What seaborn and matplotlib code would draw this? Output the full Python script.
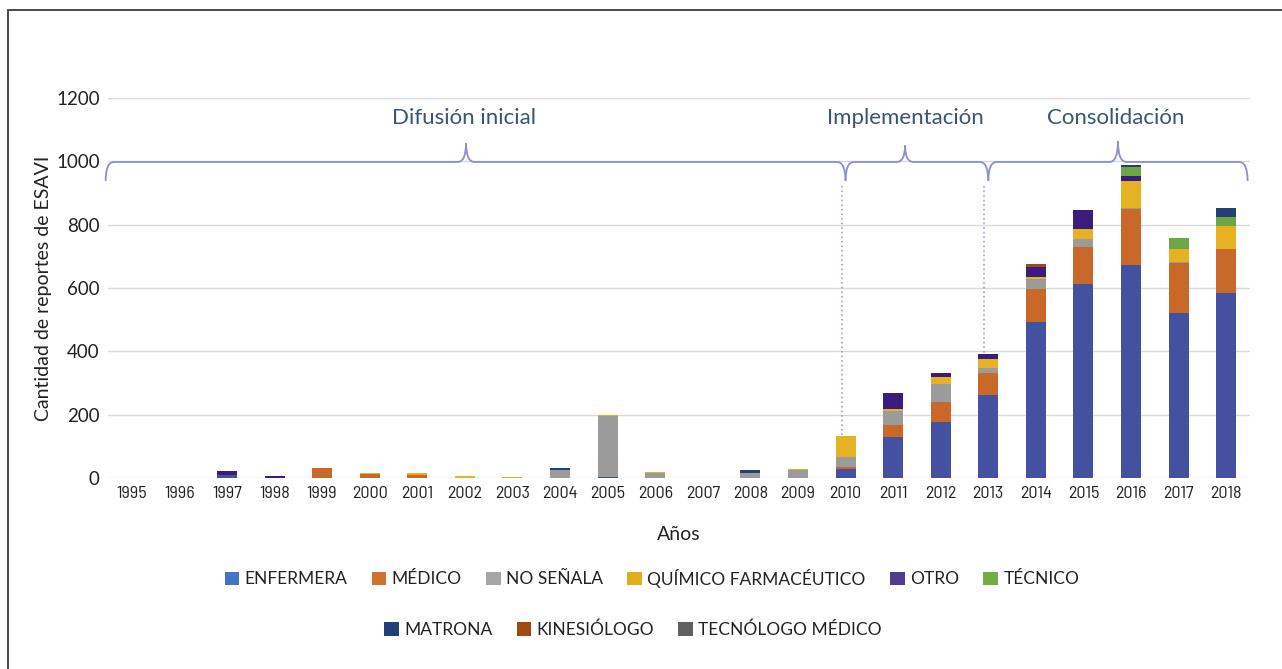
import matplotlib
matplotlib.use("Agg")
import matplotlib.pyplot as plt
import seaborn as sns
import numpy as np
from matplotlib.patches import Patch, PathPatch, Rectangle
from matplotlib.path import Path
from matplotlib import font_manager as fm

years = [str(y) for y in range(1995, 2019)]
enfermera   = [0, 0, 10, 0, 0, 0, 0, 0, 0, 0, 4, 0, 0, 0, 0, 27, 128, 178, 262, 492, 613, 673, 522, 583]
medico      = [0, 0, 0, 0, 33, 12, 11, 0, 0, 0, 0, 0, 0, 0, 0, 7, 39, 61, 69, 105, 118, 176, 156, 139]
no_senala   = [0, 0, 0, 0, 0, 0, 0, 0, 0, 26, 192, 16, 0, 16, 24, 33, 45, 58, 17, 31, 24, 5, 5, 0]
quimico     = [0, 0, 0, 0, 0, 4, 5, 5, 4, 0, 3, 4, 0, 0, 5, 66, 5, 23, 27, 7, 31, 85, 41, 74]
otro        = [0, 0, 12, 6, 0, 0, 0, 0, 0, 0, 0, 0, 0, 0, 0, 0, 50, 11, 17, 32, 60, 15, 0, 0]
tecnico     = [0, 0, 0, 0, 0, 0, 0, 0, 0, 0, 0, 0, 0, 0, 0, 0, 0, 0, 0, 0, 0, 27, 33, 29]
matrona     = [0, 0, 0, 0, 0, 0, 0, 0, 0, 5, 0, 0, 0, 9, 0, 0, 0, 0, 0, 0, 0, 7, 0, 27]
kinesiologo = [0, 0, 0, 0, 0, 0, 0, 0, 0, 0, 0, 0, 0, 0, 0, 0, 0, 0, 0, 8, 0, 0, 0, 0]
tecnologo   = [0, 0, 0, 0, 0, 0, 0, 0, 0, 0, 0, 0, 0, 0, 0, 0, 0, 0, 0, 0, 0, 0, 0, 0]

series_names = ["ENFERMERA", "MÉDICO", "NO SEÑALA", "QUÍMICO FARMACÉUTICO", "OTRO",
                "TÉCNICO", "MATRONA", "KINESIÓLOGO", "TECNÓLOGO MÉDICO"]
series_vals = [enfermera, medico, no_senala, quimico, otro, tecnico, matrona, kinesiologo, tecnologo]
bar_colors = ["#4351A0", "#C8692A", "#9B9B9B", "#E4B222", "#3A1C7E",
              "#6EA646", "#263E78", "#9E4A1A", "#636363"]
legend_colors = ["#4472C4", "#D07133", "#A5A5A5", "#E0AF1F", "#503C8E",
                 "#70AD47", "#1F4178", "#9E4A15", "#606060"]

phase_labels = ["Difusión inicial", "Implementación", "Consolidación"]

sns.set_theme(style="white")
avail = {f.name for f in fm.fontManager.ttflist}
narrow = next((f for f in ["Barlow Semi Condensed", "Archivo Narrow", "Asap Condensed"] if f in avail),
              "DejaVu Sans")
main_font = "Lato" if "Lato" in avail else "DejaVu Sans"
plt.rcParams["font.family"] = [main_font, "DejaVu Sans"]

fig = plt.figure(figsize=(12.82, 6.69), dpi=100)
ax = fig.add_axes([108/1282, 1-478/669, (1250-108)/1282, (478-98)/669])

bottom = np.zeros(len(years))
for name, vals, col in zip(series_names, series_vals, bar_colors):
    v = np.array(vals, dtype=float)
    sns.barplot(x=years, y=v, bottom=bottom, color=col, width=0.42,
                errorbar=None, ax=ax, order=years, saturation=1, zorder=3,
                edgecolor="none", linewidth=0)
    bottom = bottom + v

ax.set_ylim(0, 1200)
ax.set_xlim(-0.5, 23.5)
ax.set_yticks([0, 200, 400, 600, 800, 1000, 1200])
ax.yaxis.grid(True, color="#D9D9D9", lw=1.0, zorder=0)
ax.xaxis.grid(False)
for s in ax.spines.values():
    s.set_visible(False)
ax.tick_params(axis="both", length=0)
ax.tick_params(axis="x", pad=6)
ax.tick_params(axis="y", pad=6, labelsize=13.5, labelcolor="#222222")
for lab in ax.get_xticklabels():
    lab.set_fontfamily(narrow)
    lab.set_fontsize(13)
    lab.set_color("#222222")
ax.set_xlabel("Años", fontsize=14, labelpad=18, color="#222222")
ax.set_ylabel("Cantidad de reportes de ESAVI", fontsize=14, labelpad=3, color="#222222")

# Braces
brace_col = "#8A8FD2"
def brace(x0, x1, xm, y, down, up, dx):
    verts = [(x0, y - down), (x0, y), (x0 + dx, y),
             (xm - dx, y), (xm, y), (xm, y + up),
             (xm, y), (xm + dx, y),
             (x1 - dx, y), (x1, y), (x1, y - down)]
    codes = [Path.MOVETO, Path.CURVE3, Path.CURVE3,
             Path.LINETO, Path.CURVE3, Path.CURVE3,
             Path.CURVE3, Path.CURVE3,
             Path.LINETO, Path.CURVE3, Path.CURVE3]
    ax.add_patch(PathPatch(Path(verts, codes), fill=False, ec=brace_col, lw=1.3,
                           zorder=4, clip_on=False))
    return xm

i2010 = years.index("2010")
i2013 = years.index("2013")
ybr = 998
m1 = brace(-0.55, i2010, (i2010 - 0.55) / 2 - 0.2, ybr, 60, 60, 0.18)
m2 = brace(i2010, i2013, (i2010 + i2013) / 2 - 0.25, ybr, 60, 52, 0.18)
m3 = brace(i2013, 23.45, (i2013 + 23.45) / 2, ybr, 60, 65, 0.18)

tot = np.sum(np.array(series_vals), axis=0)
for i in (i2010, i2013):
    ax.plot([i - 0.08, i - 0.08], [ybr - 75, tot[i]], ls=(0, (1, 2)), color=brace_col,
            lw=1.1, zorder=4)

for xm, lab in zip((m1 - 0.05, m2, m3 - 0.05), phase_labels):
    ax.text(xm, 1137, lab, ha="center", va="center", fontsize=16, color="#3B5574")

# Legend
h1 = [Patch(facecolor=c, edgecolor="none") for c in legend_colors[:6]]
h2 = [Patch(facecolor=c, edgecolor="none") for c in legend_colors[6:]]
legkw = dict(frameon=False, handlelength=0.85, handleheight=0.85, handletextpad=0.3,
             columnspacing=1.4, prop={"family": main_font, "size": 12.5}, labelcolor="#222222")
fig.legend(h1, series_names[:6], loc="center", ncol=6, bbox_to_anchor=(652/1282, 1-578/669), **legkw)
fig.legend(h2, series_names[6:], loc="center", ncol=3, bbox_to_anchor=(633/1282, 1-630/669), **legkw)

fig.patches.append(Rectangle((8/1282, -0.05), 1.2, 1 - 10/669 + 0.05, transform=fig.transFigure,
                             fill=False, ec="#3A3A3A", lw=1.3))

fig.savefig("out.png", dpi=100)
